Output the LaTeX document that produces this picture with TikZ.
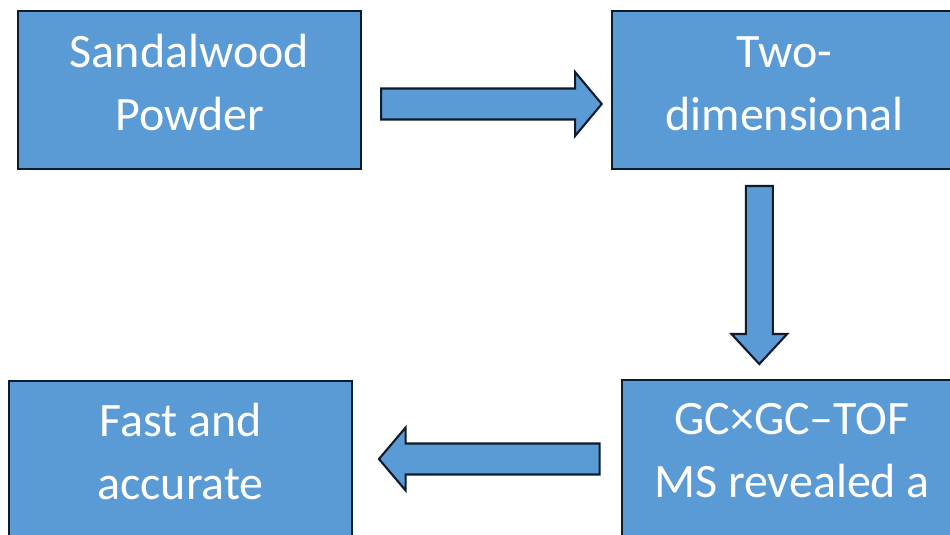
\documentclass[tikz,border=0pt]{standalone}
\usepackage{fontspec}
\setmainfont{Carlito}
\usetikzlibrary{calc}
\definecolor{boxfill}{HTML}{5B9BD5}
\definecolor{boxline}{HTML}{0E1B2C}
\newcommand\twolines[2]{\vtop{\baselineskip=63pt\lineskiplimit=-16000pt\halign{\hfil##\hfil\cr #1\cr #2\cr}}}
\tikzset{
  stagebox/.style={draw=boxline, line width=2.1pt, fill=boxfill, rectangle, inner sep=0pt},
  stagetext/.style={text=white, font=\fontsize{48}{63}\selectfont, inner sep=0pt, anchor=base},
  arrowbody/.style={draw=boxline, line width=2.1pt, fill=boxfill, line join=miter},
  pics/barrow/.style args={#1/#2/#3/#4}{code={
    \path[arrowbody] (0,-#3) -- (#1-#2,-#3) -- (#1-#2,-#4) -- (#1,0) -- (#1-#2,#4) -- (#1-#2,#3) -- (0,#3) -- cycle;
  }}
}
\begin{document}
\begin{tikzpicture}[x=1pt,y=1pt]
\useasboundingbox (0,0) rectangle (950,535);
\clip (0,0) rectangle (950,535);
\node[stagebox, minimum width=343pt, minimum height=158pt] (A) at (189.5,445) {};
\node[stagebox, minimum width=345pt, minimum height=158pt] (B) at (784.5,445) {};
\node[stagebox, minimum width=340pt, minimum height=158pt] (C) at (792,76) {};
\node[stagebox, minimum width=343pt, minimum height=158pt] (D) at (180.5,75.3) {};
\node[stagetext] (At) at (189.5,467) {\twolines{Sandalwood}{Powder}};
\node[stagetext] (Bt) at (784.5,467) {\twolines{Two-}{dimensional}};
\node[stagetext] (Ct) at (792,100) {\twolines{GC×GC–TOF}{MS revealed a}};
\node[stagetext] (Dt) at (180.5,98.3) {\twolines{Fast and}{accurate}};
\pic at ($(A.east)+(19,-14)$) {barrow=220.7/26.7/15.5/32};
\pic[rotate=-90] at ($(B.south)+(-25.2,-16)$) {barrow=178/30/13.5/27.8};
\pic[rotate=180] at ($(C.west)+(-21.3,0)$) {barrow=220.7/26.7/15.5/31.5};
\end{tikzpicture}
\end{document}
